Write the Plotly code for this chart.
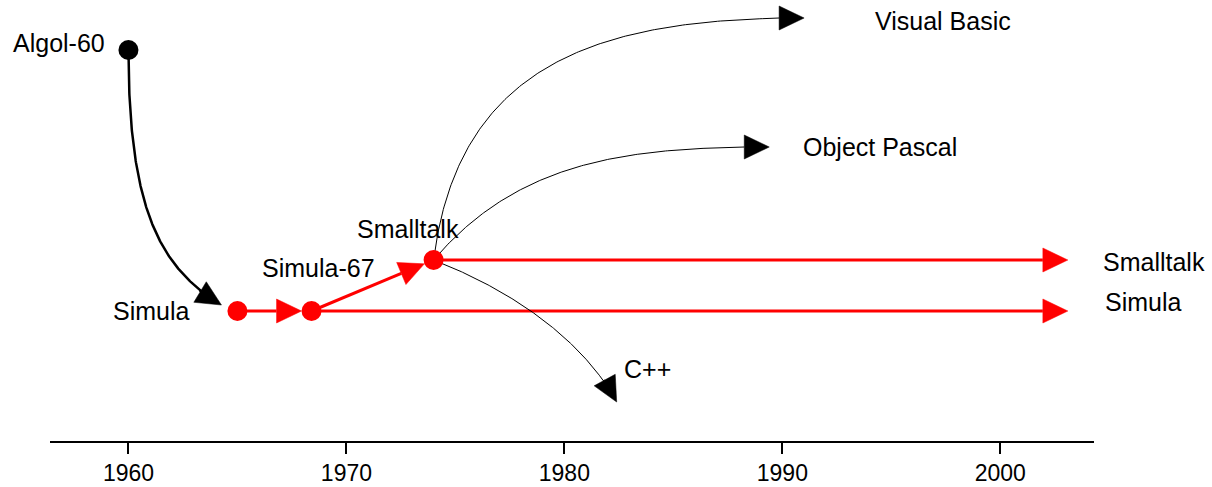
import numpy as np
import plotly.graph_objects as go

# ---------------- data ----------------
node_names = ["Algol-60", "Simula", "Simula-67", "Smalltalk"]
node_years = [1960.0, 1965.0, 1968.4, 1974.0]
node_levels = [39.1, 13.0, 13.0, 18.1]
node_colors = ["black", "red", "red", "red"]

branch_names = ["Visual Basic", "Object Pascal", "C++"]
branch_years = [1991.0, 1989.4, 1982.4]
branch_levels = [42.3, 29.4, 3.9]

continue_names = ["Smalltalk", "Simula"]
continue_from = ["Smalltalk", "Simula-67"]
continue_end_year = 2003.1

tick_years = [1960, 1970, 1980, 1990, 2000]
tick_text = ["1960", "1970", "1980", "1990", "2000"]

# ---------------- layout geometry ----------------
W, H = 1212, 487
ML, MR, MT, MB = 50, 118, 0, 46
XR = [1956.4, 2004.3]
YR = [0.0, 44.1]
PW, PH = W - ML - MR, H - MT - MB
sx = PW / (XR[1] - XR[0])
sy = PH / (YR[1] - YR[0])

def to_px(x, y):
    return np.array([ML + (x - XR[0]) * sx, MT + PH - (y - YR[0]) * sy])

def to_data(p):
    return (p[0] - ML) / sx + XR[0], (MT + PH - p[1]) / sy + YR[0]

def to_paper(p):
    return (p[0] - ML) / PW, (MT + PH - p[1]) / PH

pos = {n: to_px(x, y) for n, x, y in zip(node_names, node_years, node_levels)}

fig = go.Figure()

ARROW_L, ARROW_W = 25, 12

def add_arrowhead(tip, d, color):
    d = d / np.linalg.norm(d)
    n = np.array([-d[1], d[0]])
    base = tip - ARROW_L * d
    pts = [tip, base + ARROW_W * n, base - ARROW_W * n, tip]
    xs, ys = zip(*[to_data(p) for p in pts])
    fig.add_trace(go.Scatter(x=xs, y=ys, mode="lines", fill="toself",
                             fillcolor=color, line=dict(color=color, width=0.5),
                             hoverinfo="skip", showlegend=False))
    return base

def bezier(p0, p1, p2, p3, n=200):
    t = np.linspace(0, 1, n)[:, None]
    return ((1 - t) ** 3) * p0 + 3 * ((1 - t) ** 2) * t * p1 + 3 * (1 - t) * t ** 2 * p2 + t ** 3 * p3

def add_curve(p0, p1, p2, p3, color, width):
    pts = bezier(p0, p1, p2, p3)
    d = p3 - p2
    base = add_arrowhead(p3, d, color)
    keep = [p for p in pts if np.linalg.norm(p - p3) > ARROW_L]
    keep.append(base)
    xs, ys = zip(*[to_data(p) for p in keep])
    fig.add_trace(go.Scatter(x=xs, y=ys, mode="lines",
                             line=dict(color=color, width=width),
                             hoverinfo="skip", showlegend=False))

def add_straight(p0, tip, color, width):
    d = tip - p0
    base = add_arrowhead(tip, d, color)
    xs, ys = zip(*[to_data(p) for p in [p0, base]])
    fig.add_trace(go.Scatter(x=xs, y=ys, mode="lines",
                             line=dict(color=color, width=width),
                             hoverinfo="skip", showlegend=False))

DOT_R = 10

# Algol-60 -> Simula (thick black curve)
a, s = pos["Algol-60"], pos["Simula"]
tip = s + np.array([-16, -6])
add_curve(a, a + np.array([0, 160]), a + np.array([32, 218]), tip, "black", 2.5)

# Simula -> Simula-67, Simula-67 -> Smalltalk (red)
for src, dst in [("Simula", "Simula-67"), ("Simula-67", "Smalltalk")]:
    p0, p1 = pos[src], pos[dst]
    d = (p1 - p0) / np.linalg.norm(p1 - p0)
    add_straight(p0, p1 - DOT_R * d, "red", 3)

# continuation arrows to the present
for nm, src in zip(continue_names, continue_from):
    p0 = pos[src]
    tip = to_px(continue_end_year, to_data(p0)[1])
    add_straight(p0, tip, "red", 3)

# Smalltalk descendants (thin black curves)
st = pos["Smalltalk"]
ctrl = {
    "Visual Basic": (np.array([25, -200]), np.array([-200, 0])),
    "Object Pascal": (np.array([85, -100]), np.array([-140, 0])),
    "C++": (np.array([90, 35]), np.array([-30, -55])),
}
for nm, bx, by in zip(branch_names, branch_years, branch_levels):
    tipp = to_px(bx, by)
    c1, c2 = ctrl[nm]
    add_curve(st, st + c1, tipp + c2, tipp, "black", 1)

# node dots
fig.add_trace(go.Scatter(x=node_years, y=node_levels, mode="markers",
                         marker=dict(size=20, color=node_colors, line=dict(width=0)),
                         hoverinfo="skip", showlegend=False))

# ---------------- labels ----------------
FONT = dict(family="Arial, Liberation Sans, sans-serif", size=25, color="black")
def label(px, text, xanchor):
    x, y = to_paper(px)
    fig.add_annotation(x=x, y=y, xref="paper", yref="paper", text=text, showarrow=False,
                       xanchor=xanchor, yanchor="middle", font=FONT)

label(np.array([107, 43]), node_names[0], "right")
label(np.array([192, 311]), node_names[1], "right")
label(np.array([318, 268]), node_names[2], "center")
label(np.array([408, 229]), node_names[3], "center")
label(np.array([873, 21]), branch_names[0], "left")
label(np.array([801, 147]), branch_names[1], "left")
label(np.array([622, 369]), branch_names[2], "left")
label(np.array([1101, 262]), continue_names[0], "left")
label(np.array([1103, 302]), continue_names[1], "left")

fig.update_layout(
    width=W, height=H,
    margin=dict(l=ML, r=MR, t=MT, b=MB, pad=0),
    paper_bgcolor="white", plot_bgcolor="white",
    xaxis=dict(range=XR, tickvals=tick_years, ticktext=tick_text,
               showline=True, linecolor="black", linewidth=1.5,
               ticks="outside", ticklen=11, tickwidth=1.5, tickcolor="black",
               showgrid=False, zeroline=False, fixedrange=True,
               tickfont=dict(family="Arial, Liberation Sans, sans-serif", size=23, color="black")),
    yaxis=dict(range=YR, visible=False, showgrid=False, zeroline=False, fixedrange=True),
)

fig.write_html("out.html", config={"displayModeBar": False},
               post_script="document.body.style.margin='0';document.body.style.padding='0';")
